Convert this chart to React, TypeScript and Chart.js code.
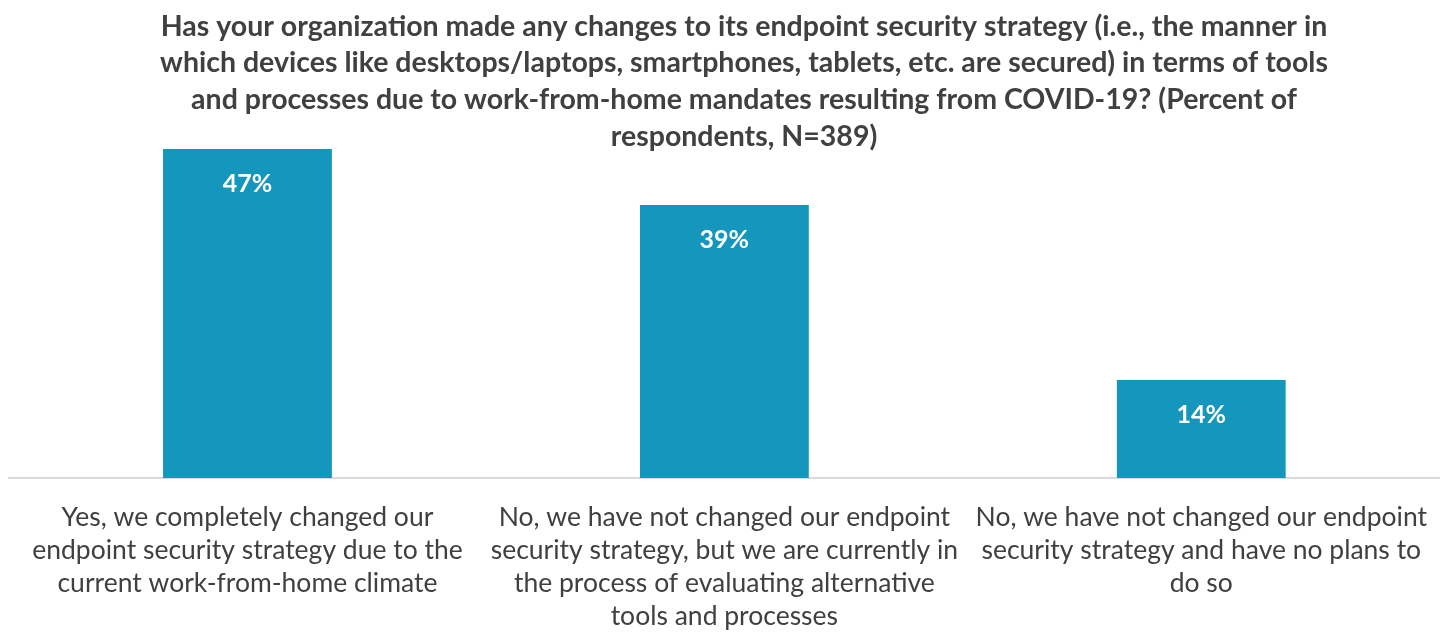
import React, { useEffect, useRef } from "react";
import { Chart, registerables } from "chart.js";

Chart.register(...registerables);

const titleLines = [
  "Has your organization made any changes to its endpoint security strategy (i.e., the manner in",
  "which devices like desktops/laptops, smartphones, tablets, etc. are secured) in terms of tools",
  "and processes due to work-from-home mandates resulting from COVID-19? (Percent of",
  "respondents, N=389)",
];

const categories = [
  ["Yes, we completely changed our", "endpoint security strategy due to the", "current work-from-home climate"],
  ["No, we have not changed our endpoint", "security strategy, but we are currently in", "the process of evaluating alternative", "tools and processes"],
  ["No, we have not changed our endpoint", "security strategy and have no plans to", "do so"],
];

const values = [47, 39, 14];

const FONT = "Lato, 'Noto Sans', sans-serif";
const TEXT = "#404040";
const BAR = "#1596bc";

const valueLabels = {
  id: "valueLabels",
  afterDatasetsDraw(chart: any) {
    const ctx = chart.ctx;
    const meta = chart.getDatasetMeta(0);
    ctx.save();
    ctx.fillStyle = "#ffffff";
    ctx.font = `bold 25px ${FONT}`;
    ctx.textAlign = "center";
    ctx.textBaseline = "middle";
    meta.data.forEach((el: any, i: number) => {
      ctx.fillText(values[i] + "%", el.x, el.y + 35);
    });
    ctx.restore();
  },
};

const titleBlock = {
  id: "titleBlock",
  afterDraw(chart: any) {
    const ctx = chart.ctx;
    ctx.save();
    ctx.fillStyle = TEXT;
    ctx.font = `bold 28.5px ${FONT}`;
    ctx.textAlign = "center";
    ctx.textBaseline = "middle";
    titleLines.forEach((line, i) => {
      ctx.fillText(line, 744, 26.5 + i * 36.7);
    });
    ctx.restore();
  },
};

export default function App() {
  const ref = useRef<HTMLCanvasElement>(null);
  useEffect(() => {
    if (!ref.current) return;
    const chart = new Chart(ref.current, {
      type: "bar",
      data: {
        labels: categories,
        datasets: [
          {
            data: values,
            backgroundColor: BAR,
            borderWidth: 0,
            barPercentage: 0.354,
            categoryPercentage: 1,
            clip: false as any,
          },
        ],
      },
      options: {
        animation: false,
        responsive: true,
        maintainAspectRatio: false,
        layout: { padding: { left: 9, right: 12, top: 149, bottom: -23 } },
        plugins: {
          legend: { display: false },
          tooltip: { enabled: false },
          title: { display: false },
        },
        scales: {
          y: { display: false, min: 0, max: 47 },
          x: {
            grid: { display: false, drawTicks: false },
            border: { display: true, color: "#d9d9d9", width: 2 },
            ticks: {
              color: TEXT,
              font: { family: FONT, size: 26.5, lineHeight: 33 / 26.5 },
              padding: 23,
              maxRotation: 0,
              autoSkip: false,
            },
          },
        },
      },
      plugins: [valueLabels, titleBlock],
    });
    return () => chart.destroy();
  }, []);
  return (
    <div style={{ position: "absolute", left: 0, top: 0, width: 1452, height: 633 }}>
      <canvas ref={ref} />
    </div>
  );
}
